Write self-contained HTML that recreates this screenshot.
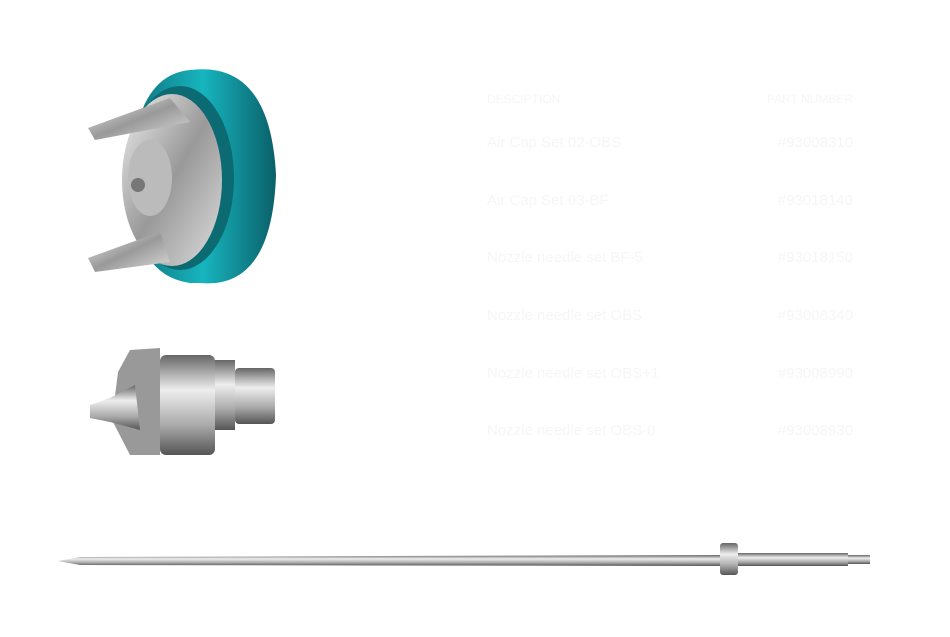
<!DOCTYPE html>
<html><head><meta charset="utf-8"><style>
html,body{margin:0;padding:0;background:#fff;width:950px;height:637px;overflow:hidden;position:relative;font-family:"Liberation Sans",sans-serif}
.t{position:absolute;color:#f6f6f6;font-size:15px;white-space:nowrap}
.h{font-size:12px}
.r{text-align:right;right:97px}
</style></head><body>
<svg width="950" height="637" style="position:absolute;left:0;top:0">
<defs>
<linearGradient id="teal" x1="0" x2="1"><stop offset="0" stop-color="#0e6f78"/><stop offset=".5" stop-color="#17b5bf"/><stop offset="1" stop-color="#0a5f68"/></linearGradient>
<linearGradient id="sil" x1="0" x2="1" y1="0" y2="1"><stop offset="0" stop-color="#eee"/><stop offset=".5" stop-color="#999"/><stop offset="1" stop-color="#ddd"/></linearGradient>
<linearGradient id="sil2" x1="0" x2="0" y1="0" y2="1"><stop offset="0" stop-color="#666"/><stop offset=".35" stop-color="#eee"/><stop offset=".7" stop-color="#aaa"/><stop offset="1" stop-color="#555"/></linearGradient>
</defs>
<path d="M190,70 Q270,60 276,175 Q272,290 200,283 L190,283 Q130,275 130,175 Q135,75 190,70 Z" fill="url(#teal)"/>
<ellipse cx="180" cy="178" rx="54" ry="92" fill="#0c6a73"/>
<ellipse cx="172" cy="180" rx="50" ry="86" fill="url(#sil)"/>
<ellipse cx="150" cy="178" rx="22" ry="38" fill="#bbb"/>
<circle cx="138" cy="185" r="7" fill="#777"/>
<polygon points="88,128 95,140 190,122 170,98" fill="url(#sil)"/>
<polygon points="88,258 95,272 170,262 160,232" fill="url(#sil)"/>
<polygon points="118,372 130,350 160,348 160,455 130,455 112,420" fill="#999"/>
<rect x="160" y="355" width="55" height="100" rx="6" fill="url(#sil2)"/>
<rect x="215" y="360" width="20" height="70" fill="url(#sil2)"/>
<rect x="235" y="368" width="40" height="56" rx="4" fill="url(#sil2)"/>
<polygon points="90,405 110,398 135,385 140,430 110,422 90,418" fill="url(#sil2)"/>
<polygon points="58,561 80,557 720,555 720,566 80,565" fill="url(#sil2)"/>
<rect x="720" y="543" width="18" height="32" rx="3" fill="url(#sil2)"/>
<rect x="738" y="553" width="110" height="13" fill="url(#sil2)"/>
<rect x="848" y="555" width="22" height="9" fill="url(#sil2)"/>
</svg>
<div class="t h" style="left:487px;top:92px">DESCIPTION</div>
<div class="t h r" style="top:92px">PART NUMBER</div>
<div class="t" style="left:487px;top:134px">Air Cap Set 02-OBS</div><div class="t r" style="top:134px">#93008310</div>
<div class="t" style="left:487px;top:192px">Air Cap Set 03-BF</div><div class="t r" style="top:192px">#93018140</div>
<div class="t" style="left:487px;top:249px">Nozzle needle set BF-5</div><div class="t r" style="top:249px">#93018150</div>
<div class="t" style="left:487px;top:307px">Nozzle needle set OBS</div><div class="t r" style="top:307px">#93008340</div>
<div class="t" style="left:487px;top:365px">Nozzle needle set OBS+1</div><div class="t r" style="top:365px">#93008990</div>
<div class="t" style="left:487px;top:422px">Nozzle needle set OBS-0</div><div class="t r" style="top:422px">#93008930</div>
</body></html>
